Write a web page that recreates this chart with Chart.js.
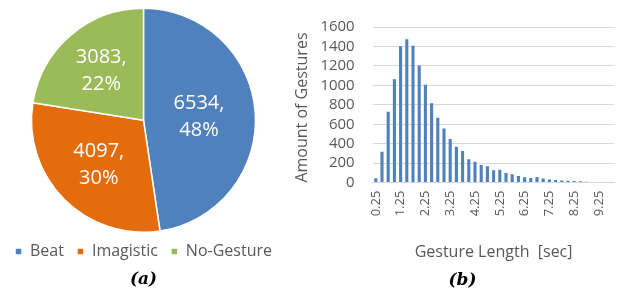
<!DOCTYPE html>
<html>
<head>
<meta charset="utf-8">
<script src="https://cdn.jsdelivr.net/npm/chart.js@4/dist/chart.umd.min.js"></script>
<style>
html, body { margin: 0; padding: 0; background: #fff; }
#wrap { position: relative; width: 635px; height: 293px; }
#box_pie { position: absolute; left: 0; top: 0; width: 290px; height: 293px; }
#box_hist { position: absolute; left: 290px; top: 0; width: 345px; height: 293px; }
</style>
</head>
<body>
<div id="wrap">
	<div id="box_pie"><canvas id="chart_pie"></canvas></div>
	<div id="box_hist"><canvas id="chart_hist"></canvas></div>
</div>
<script>
// (a) tipos de gesto
var tipos_gesto = ["Beat", "Imagistic", "No-Gesture"];
var cantidad_tipo = [6534, 4097, 3083];
var colores_tipo = ["#4F81BD", "#E46C0A", "#9BBB59"];

// (b) histograma de duracion
var duraciones = ["0.25", "0.5", "0.75", "1", "1.25", "1.5", "1.75", "2", "2.25", "2.5",
	"2.75", "3", "3.25", "3.5", "3.75", "4", "4.25", "4.5", "4.75", "5",
	"5.25", "5.5", "5.75", "6", "6.25", "6.5", "6.75", "7", "7.25", "7.5",
	"7.75", "8", "8.25", "8.5", "8.75", "9", "9.25", "9.5", "9.75"];
var cantidad_gestos = [44, 318, 728, 1063, 1402, 1473, 1408, 1203, 1005, 817,
	667, 557, 448, 369, 325, 239, 215, 181, 168, 126,
	133, 99, 85, 68, 55, 48, 58, 41, 31, 27,
	21, 20, 17, 14, 8, 7, 5, 4, 3];

var gris_texto = "#595959";
var fuente = "'Open Sans', sans-serif";

// etiquetas blancas dentro de cada porcion
var etiquetasPie = {
	id: 'etiquetasPie',
	afterDatasetsDraw: function(chart){
		var ctx = chart.ctx;
		var meta = chart.getDatasetMeta(0);
		var total = cantidad_tipo.reduce(function(a, b){ return a + b; }, 0);
		ctx.save();
		ctx.fillStyle = "#fff";
		ctx.font = "20px " + fuente;
		ctx.textAlign = "center";
		ctx.textBaseline = "middle";
		meta.data.forEach(function(arc, i){
			var p = arc.getProps(['x', 'y', 'startAngle', 'endAngle', 'outerRadius']);
			var ang = (p.startAngle + p.endAngle) / 2;
			var medio = (p.endAngle - p.startAngle) / 2;
			// mezcla entre el centroide del sector y un radio fijo
			var centroide = 2 * Math.sin(medio) / (3 * medio);
			var r = p.outerRadius * (centroide + 0.55) / 2;
			var x = p.x + Math.cos(ang) * r;
			var y = p.y + Math.sin(ang) * r;
			var pct = Math.round(cantidad_tipo[i] / total * 100);
			ctx.fillText(cantidad_tipo[i] + ",", x, y - 13);
			ctx.fillText(pct + "%", x, y + 14);
		});
		ctx.restore();
	}
};

var datos_pie = {
	type: "pie",
	data: {
		labels: tipos_gesto,
		datasets: [{
			data: cantidad_tipo,
			backgroundColor: colores_tipo,
			borderColor: "#fff",
			borderWidth: 1.5,
			radius: 112
		}]
	},
	options: {
		responsive: true,
		maintainAspectRatio: false,
		animation: false,
		layout: { padding: { top: 10, left: 0, right: 3, bottom: 0 } },
		plugins: {
			tooltip: { enabled: false },
			legend: {
				position: "bottom",
				labels: {
					boxWidth: 7,
					boxHeight: 7,
					padding: 13,
					color: gris_texto,
					font: { family: fuente, size: 16 }
				}
			},
			title: {
				display: true,
				text: "(a)",
				position: "bottom",
				color: "#000",
				font: { family: "'DejaVu Serif', serif", size: 17, style: "italic", weight: "bold" },
				padding: { top: 0, bottom: 3 }
			}
		}
	},
	plugins: [etiquetasPie]
};

var datos_hist = {
	type: "bar",
	data: {
		labels: duraciones,
		datasets: [{
			data: cantidad_gestos,
			backgroundColor: "#4F81BD",
			barPercentage: 0.5,
			categoryPercentage: 1
		}]
	},
	options: {
		responsive: true,
		maintainAspectRatio: false,
		animation: false,
		layout: { padding: { top: 18, left: 0, right: 0, bottom: 0 } },
		plugins: {
			legend: { display: false },
			tooltip: { enabled: false },
			title: {
				display: true,
				text: "(b)",
				position: "bottom",
				color: "#000",
				font: { family: "'DejaVu Serif', serif", size: 17, style: "italic", weight: "bold" },
				padding: { top: 0, bottom: 2 }
			}
		},
		scales: {
			x: {
				grid: { display: false, drawTicks: false },
				border: { color: "#D9D9D9" },
				ticks: {
					autoSkip: false,
					minRotation: 90,
					maxRotation: 90,
					padding: 8,
					color: gris_texto,
					font: { family: fuente, size: 13 },
					callback: function(v, i){ return i % 4 === 0 ? this.getLabelForValue(v) : ""; }
				},
				title: {
					display: true,
					text: "Gesture Length  [sec]",
					color: gris_texto,
					font: { family: fuente, size: 16 },
					padding: { top: 4, bottom: 9 }
				},
				afterFit: function(s){ s.height = 88; }
			},
			y: {
				min: 0,
				max: 1600,
				grid: { color: "#D9D9D9", drawTicks: false },
				border: { display: false },
				ticks: {
					stepSize: 200,
					autoSkip: false,
					padding: 18,
					color: gris_texto,
					font: { family: fuente, size: 15 },
					callback: function(v){ return String(v); }
				},
				title: {
					display: true,
					text: "Amount of Gestures",
					align: "start",
					color: gris_texto,
					font: { family: fuente, size: 16 },
					padding: { top: 3, bottom: 0 }
				},
				afterFit: function(s){ s.width = 82.7; }
			}
		}
	}
};

window.pie = new Chart(document.getElementById('chart_pie').getContext('2d'), datos_pie);
window.hist = new Chart(document.getElementById('chart_hist').getContext('2d'), datos_hist);
</script>
</body>
</html>
